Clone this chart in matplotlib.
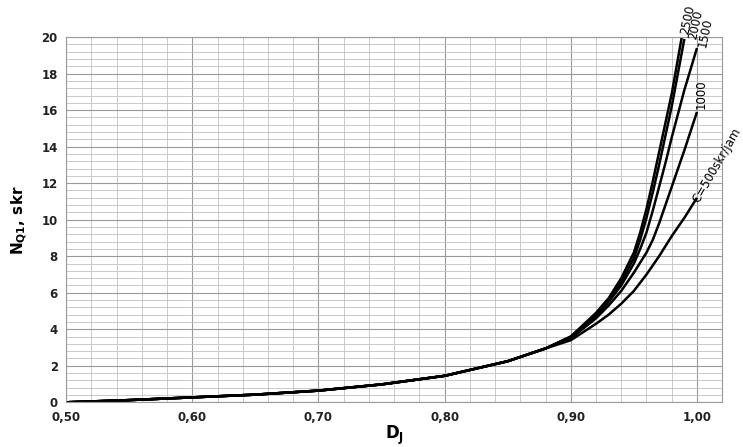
"""Curvas N_Q1 (skr) frente a D_J para distintas capacidades C (skr/jam).

Las curvas comparten el tramo inicial (D_J < 0,90) y se separan cerca de 1,00.
"""

import matplotlib

matplotlib.use("Agg")
import matplotlib.pyplot as plt
import numpy as np
from matplotlib.ticker import FixedLocator, FuncFormatter, MultipleLocator

# Tramo común de todas las curvas
x_base = [0.50, 0.55, 0.60, 0.65, 0.70, 0.75, 0.80, 0.85, 0.88]
y_base = [0.0, 0.12, 0.27, 0.42, 0.64, 0.98, 1.45, 2.25, 2.95]

# Tramo final, donde las curvas se separan
x_top = [0.90, 0.92, 0.93, 0.94, 0.95, 0.955, 0.96, 0.965, 0.97, 0.975, 0.98, 0.99, 1.00]
y_c500 = [3.40, 4.30, 4.80, 5.40, 6.10, 6.55, 7.00, 7.50, 8.00, 8.55, 9.10, 10.1, 11.2]
y_c1000 = [3.50, 4.60, 5.30, 6.10, 7.10, 7.65, 8.20, 8.90, 9.80, 10.8, 11.8, 13.8, 15.9]
y_c1500 = [3.55, 4.70, 5.50, 6.40, 7.60, 8.40, 9.30, 10.5, 11.8, 13.1, 14.5, 17.1, 19.4]
y_c2000 = [3.60, 4.80, 5.60, 6.60, 7.90, 8.90, 10.1, 11.5, 13.0, 14.6, 16.2, 19.9, np.nan]
y_c2500 = [3.60, 4.90, 5.70, 6.80, 8.20, 9.30, 10.6, 12.1, 13.7, 15.3, 16.9, 20.8, np.nan]

series = [y_c500, y_c1000, y_c1500, y_c2000, y_c2500]

# Etiquetas de cada curva: texto, posición (datos) y giro
curve_labels = ["C=500skr/jam", "1000", "1500", "2000", "2500"]
label_pos = [(1.0155, 13.0), (1.003, 16.9), (1.0065, 20.25), (0.9990, 20.7), (0.9925, 20.95)]
label_rot = [60, 90, 78, 78, 78]

x_ticks = [0.50, 0.60, 0.70, 0.80, 0.90, 1.00]
y_ticks = list(range(0, 21, 2))

fig = plt.figure(figsize=(7.43, 4.47), dpi=100)
ax = fig.add_axes([0.089, 0.1, 0.883, 0.817])

for y_top in series:
    x = x_base + x_top
    y = y_base + y_top
    ax.plot(x, y, color="black", linewidth=1.8, solid_capstyle="butt")

ax.set_xlim(0.50, 1.02)
ax.set_ylim(0, 20)

# Rejilla tipo papel milimetrado
ax.xaxis.set_major_locator(FixedLocator(x_ticks))
ax.xaxis.set_minor_locator(MultipleLocator(0.02))
ax.yaxis.set_major_locator(FixedLocator(y_ticks))
ax.yaxis.set_minor_locator(MultipleLocator(0.4))
ax.grid(which="major", color="#9a9a9a", linewidth=0.8)
ax.grid(which="minor", color="#c2c2c2", linewidth=0.6)
ax.set_axisbelow(True)
ax.xaxis.set_major_formatter(FuncFormatter(lambda v, _: f"{v:.2f}".replace(".", ",")))
ax.tick_params(which="both", length=0, labelsize=8.5, pad=6)
for lab in ax.get_xticklabels() + ax.get_yticklabels():
    lab.set_fontweight("bold")
    lab.set_color("#222222")
for spine in ax.spines.values():
    spine.set_color("#9a9a9a")
    spine.set_linewidth(0.8)

ax.set_xlabel(r"$\mathbf{D_J}$", fontsize=12, labelpad=0)
ax.set_ylabel(r"$\mathbf{N_{Q1}}$, skr", fontsize=11, fontweight="bold", labelpad=8)

for text, (tx, ty), rot in zip(curve_labels, label_pos, label_rot):
    ax.text(tx, ty, text, rotation=rot, rotation_mode="anchor", fontsize=8.5,
            ha="center", va="center", clip_on=False, family="Liberation Sans Narrow")

fig.savefig("out.png", dpi=100)
